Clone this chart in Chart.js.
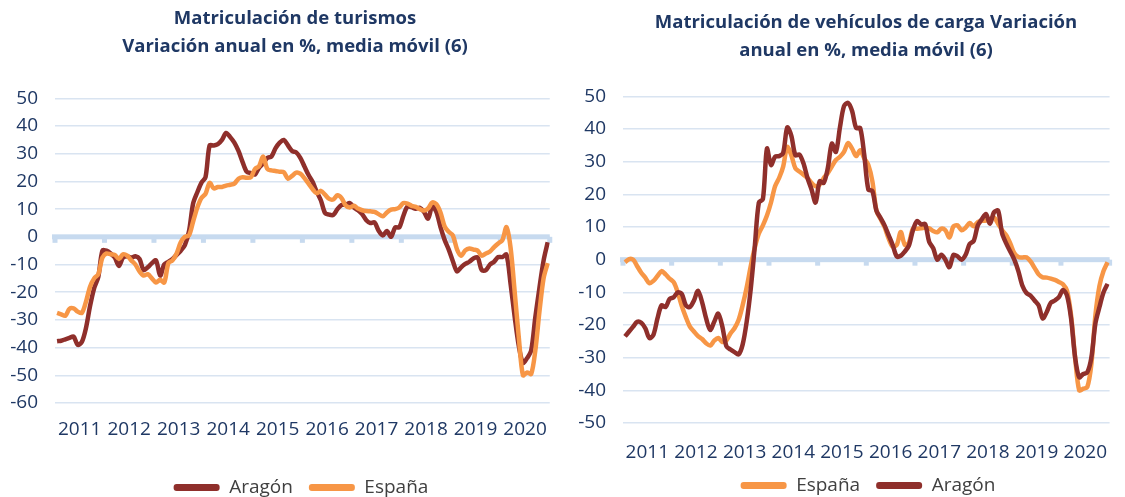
<!DOCTYPE html>
<html>
<head>
<meta charset="utf-8">
<style>
  body { margin: 0; background: #fff; }
  #wrap { position: relative; width: 1125px; height: 497px; }
  #left { position: absolute; left: 0; top: 0; }
  #right { position: absolute; left: 562px; top: 0; }
</style>
</head>
<body>
<div id="wrap">
  <canvas id="left" width="562" height="497"></canvas>
  <canvas id="right" width="563" height="497"></canvas>
</div>
<script src="https://cdn.jsdelivr.net/npm/chart.js@4.4.0/dist/chart.umd.min.js"></script>
<script>
const years = ['2011','2012','2013','2014','2015','2016','2017','2018','2019','2020'];

// turismos, monthly from Jan 2011 (one row per year)
const turAragon = [
  -37.7, -37.5, -37, -36.5, -36, -39, -38, -33, -25, -18.5, -14.5, -5,
  -5, -6, -7.5, -10.5, -7.5, -7, -7.5, -7, -8, -12, -11, -9.5,
  -8.5, -14, -10, -9, -8, -6.5, -5, -3, 2, 12, 16, 19.5,
  21.5, 33, 33, 33.5, 35, 37.5, 36, 34, 31, 27, 23.5, 23,
  22.5, 25, 26.5, 28.5, 29, 32, 34, 35, 33, 31, 30.5, 28.5,
  25.4, 22.3, 19.8, 16.2, 13.1, 8.6, 8, 7.9, 10, 11.5, 11.6, 12.2,
  10.6, 9.6, 8.2, 6, 5, 5.2, 2.2, 0.5, 2.1, 0, 3.4, 3.4,
  7.6, 11, 10.7, 10.1, 10.5, 9, 6.6, 11, 9, 3.5, -1.1, -4.6,
  -8.8, -12.5, -11, -9.8, -9, -7.8, -7.4, -12, -12, -10, -9, -7.3,
  -7.3, -6.4, -17, -29, -39.5, -45.5, -43.8, -41, -29, -18.4, -8.6, -2
];
const turEspana = [
  -27.5, -28, -28.5, -26, -25.8, -27, -27.5, -23.5, -18, -15, -13.5, -7.5,
  -6, -6.3, -6.5, -8, -6.3, -6.8, -8.5, -10, -12.5, -14, -13.5, -15,
  -16.5, -15.5, -16.5, -9.5, -8.5, -6, -2, 0, 0.5, 5.5, 10.5, 14,
  15.5, 19.5, 17.5, 18, 18, 18.5, 18.8, 19.2, 21, 21.5, 21.3, 21.5,
  24.5, 25.5, 29, 24.5, 24, 23.8, 23.5, 23.3, 21, 22, 23.2, 22.8,
  21.2, 19.2, 17.2, 15.7, 16.6, 15.2, 13.7, 13.5, 15, 14, 11.3, 10.6,
  11.2, 10.2, 9.6, 9.3, 9.2, 9, 8.2, 7.4, 8.8, 9.8, 10, 10.6,
  12.2, 12, 11.2, 10.8, 10, 9.5, 10.3, 12.4, 11.8, 8.8, 3.8, 1.8,
  0.5, -4.5, -6.8, -4.9, -4.2, -4.6, -5, -6.8, -6, -5.3, -3.7, -2.4,
  -1.2, 3.5, -4, -20, -36.5, -50, -49, -49.5, -41, -27, -15, -9.5
];

// vehiculos de carga
const cargaAragon = [
  -23.5, -22, -20.5, -19, -19.3, -21, -24, -23, -18, -14, -14.5, -12,
  -11.5, -10, -10.5, -14, -14.5, -12.5, -9.5, -13, -18, -21.5, -19, -16.5,
  -20.5, -26.5, -27.5, -28.3, -29, -26, -19, -9, 4, 17.5, 18.5, 34,
  29, 31.5, 31.7, 32.7, 40.5, 38, 32, 32.2, 29.5, 25, 21.5, 17.5,
  24, 23.5, 28, 35.5, 33, 40.5, 47, 48, 45.5, 40.3, 40.3, 32,
  21.5, 21, 15, 12.8, 10.5, 7.5, 4.5, 1, 1.2, 2.5, 4.3, 9,
  11.8, 10.8, 10.9, 5.5, 3.5, 0, 1.5, 0, -2.3, 1.5, 1, 0,
  1.5, 4.8, 5.8, 10.5, 12.4, 14, 11, 14.5, 15, 8, 5, 2.5,
  0, -3.5, -8, -10.2, -11, -12.5, -14, -18, -16, -13.2, -12.5, -11.5,
  -9.3, -11, -18, -30, -36, -35, -34.5, -30, -19.5, -14.5, -10, -7.4
];
const cargaEspana = [
  -0.8, 0.2, 0, -2, -4, -5.5, -7.2, -6.5, -5, -3.5, -4.5, -5.8,
  -6.9, -10, -14.2, -17.6, -20.5, -22, -23.4, -24.3, -25.6, -26.3, -24.8, -24,
  -25.2, -24.7, -22.6, -21, -18.5, -14, -8.5, -2, 3.7, 8, 10.5, 13.5,
  17.5, 22.5, 25, 28.5, 34.5, 32, 28, 27, 26, 25, 23.5, 22.5,
  23, 25, 26.5, 28.5, 30.5, 31.5, 33, 35.7, 34, 31.7, 33.5, 31,
  29, 24, 15, 12.5, 10, 6.5, 4, 4.5, 8.5, 4.5, 5.2, 9.5,
  9.5, 9.6, 9.8, 9.6, 8.8, 8.4, 9.5, 9, 6.8, 10.2, 10.5, 9,
  9.8, 11.2, 10.2, 11.5, 11.9, 12, 12.4, 12.9, 11, 9, 7.5, 5,
  2, 0.8, 0.7, 0.7, -0.5, -2.5, -4.5, -5.4, -5.5, -5.8, -6.2, -6.8,
  -7.5, -9.5, -17, -30, -40, -39.5, -39, -32, -17, -8, -3.5, -0.8
];

const navy = '#1f3864';
const red = '#8f2f2b';
const orange = '#f79646';
const fam = '"Open Sans", sans-serif';

function points(values) {
  return values.map((v, i) => ({x: i + 0.5, y: v}));
}

// thick zero line with little year marks under it
const zeroLine = {
  id: 'zeroLine',
  beforeDatasetsDraw(chart) {
    const {ctx, scales: {x, y}} = chart;
    const y0 = y.getPixelForValue(0);
    ctx.save();
    ctx.fillStyle = '#c7daef';
    ctx.fillRect(x.left - 3, y0 - 2.5, x.right - x.left + 3, 5);
    for (let k = 0; k <= years.length; k++) {
      const px = x.getPixelForValue(k * 12);
      ctx.fillRect(px - 2.5, y0, 5, 6);
    }
    ctx.restore();
  }
};

function makeChart(id, o) {
  // title and legend are centred a bit right of the canvas middle
  const shiftBlocks = {
    id: 'shiftBlocks',
    afterLayout(chart) {
      chart.titleBlock.left = o.titleLeft;
      chart.legend.left = o.legendLeft;
    }
  };
  return new Chart(id, {
    type: 'line',
    data: {
      datasets: o.series.map(s => ({
        label: s.label,
        data: points(s.values),
        borderColor: s.color,
        backgroundColor: s.color,
        borderWidth: 4.5,
        pointRadius: 0,
        tension: 0.3,
        order: s.order
      }))
    },
    options: {
      responsive: false,
      animation: false,
      layout: {padding: o.padding},
      plugins: {
        title: {
          display: true,
          text: o.title,
          color: navy,
          font: {family: fam, size: 18.5, weight: 'bold', lineHeight: 1.55},
          padding: o.titlePad
        },
        legend: {
          position: 'bottom',
          labels: {
            boxWidth: 46,
            boxHeight: 7,
            useBorderRadius: true,
            borderRadius: 3,
            padding: 16,
            color: '#404040',
            font: {family: fam, size: 19},
            sort: (a, b) => a.datasetIndex - b.datasetIndex,
            generateLabels: chart => Chart.defaults.plugins.legend.labels.generateLabels(chart)
              .map(l => Object.assign(l, {lineWidth: 0}))
          }
        },
        tooltip: {enabled: false}
      },
      scales: {
        x: {
          type: 'linear',
          min: 0,
          max: 120,
          grid: {display: false, drawTicks: false},
          border: {display: false},
          afterBuildTicks: s => { s.ticks = years.map((yr, k) => ({value: 6 + 12 * k})); },
          afterFit: s => { s.height = o.xHeight; },
          ticks: {
            padding: o.xPad,
            color: navy,
            font: {family: fam, size: 19},
            maxRotation: 0,
            autoSkip: false,
            callback: v => years[(v - 6) / 12]
          }
        },
        y: {
          min: o.yMin,
          max: o.yMax,
          grid: {color: '#d9e4f1', lineWidth: 1.5, drawTicks: false},
          border: {display: false},
          afterFit: s => { s.width = o.yWidth; },
          ticks: {stepSize: 10, padding: 17, color: navy, font: {family: fam, size: 19}}
        }
      }
    },
    plugins: [zeroLine, shiftBlocks]
  });
}

makeChart('left', {
  title: ['Matriculación de turismos', 'Variación anual en %, media móvil (6)'],
  series: [
    {label: 'Aragón', values: turAragon, color: red, order: 1},
    {label: 'España', values: turEspana, color: orange, order: 0}
  ],
  yMin: -60, yMax: 50,
  padding: {left: 0, right: 5, top: 0, bottom: -10},
  titlePad: {top: 4, bottom: 37},
  titleLeft: 33, legendLeft: 45,
  yWidth: 55, xHeight: 59, xPad: 15
});

makeChart('right', {
  title: ['Matriculación de vehículos de carga Variación', 'anual en %, media móvil (6)'],
  series: [
    {label: 'España', values: cargaEspana, color: orange, order: 1},
    {label: 'Aragón', values: cargaAragon, color: red, order: 0}
  ],
  yMin: -50, yMax: 50,
  padding: {left: 0, right: 0, top: 0, bottom: -8},
  titlePad: {top: 8, bottom: 31},
  titleLeft: 45, legendLeft: 49,
  yWidth: 61, xHeight: 37, xPad: 18
});
</script>
</body>
</html>
